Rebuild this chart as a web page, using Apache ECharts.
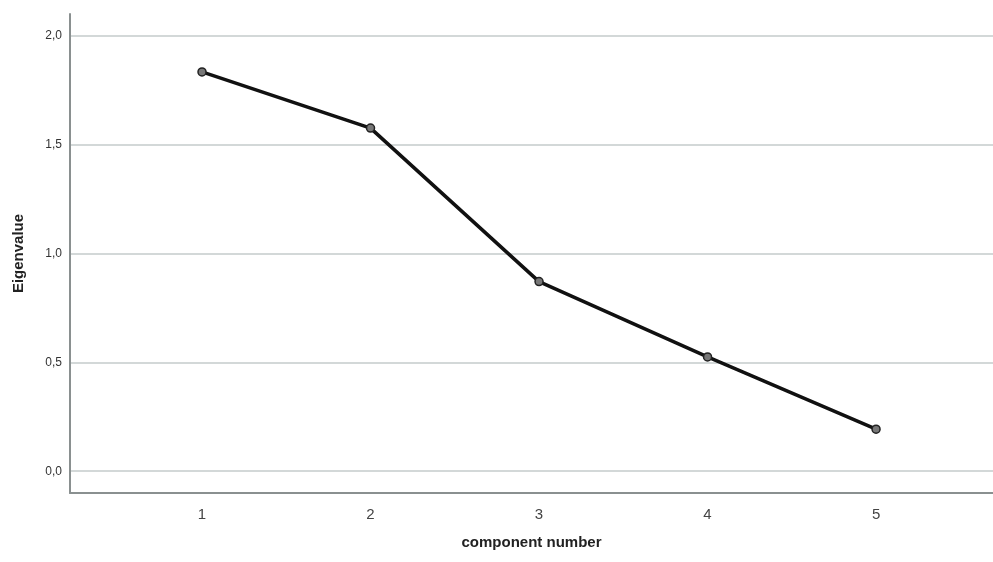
<!DOCTYPE html>
<html><head><meta charset="utf-8">
<script src="https://cdn.jsdelivr.net/npm/echarts@6/dist/echarts.min.js"></script>
<style>html,body{margin:0;padding:0;background:#fff}#c{width:993px;height:562px}</style>
</head><body><div id="c"></div>
<script>
const components = [1, 2, 3, 4, 5];
const eigenvalues = [1.834, 1.576, 0.871, 0.525, 0.193];
const yTicks = [0, 0.5, 1.0, 1.5, 2.0];
const xTicks = [1, 2, 3, 4, 5];

const chart = echarts.init(document.getElementById('c'));
chart.setOption({
  animation: false,
  grid: {left: 70, right: 0, top: 14, bottom: 69},
  xAxis: {
    type: 'value', min: 0.2166, max: 5.694,
    name: 'component number', nameLocation: 'middle', nameGap: 42,
    nameTextStyle: {fontFamily: 'Liberation Sans', fontWeight: 'bold', fontSize: 15, color: '#222'},
    axisLine: {show: true, onZero: false, lineStyle: {color: '#8a9090', width: 2}},
    axisTick: {show: false, customValues: xTicks},
    axisLabel: {customValues: xTicks, fontFamily: 'Liberation Sans', fontSize: 15, color: '#444', margin: 14},
    splitLine: {show: false}
  },
  yAxis: {
    type: 'value', min: -0.1, max: 2.1,
    name: 'Eigenvalue', nameLocation: 'middle', nameGap: 44, nameRotate: 90,
    nameTextStyle: {fontFamily: 'Liberation Sans', fontWeight: 'bold', fontSize: 15, color: '#222'},
    axisLine: {show: true, onZero: false, lineStyle: {color: '#8a9090', width: 2}},
    axisTick: {show: false, customValues: yTicks},
    axisLabel: {customValues: yTicks, fontFamily: 'Liberation Sans', fontSize: 12, color: '#333', margin: 8,
      formatter: v => v.toFixed(1).replace('.', ',')},
    splitLine: {show: true, lineStyle: {color: '#d3d8d8', width: 2}}
  },
  series: [{
    type: 'line',
    data: components.map((c, i) => [c, eigenvalues[i]]),
    lineStyle: {color: '#111', width: 3.5},
    symbol: 'circle', symbolSize: 8,
    itemStyle: {color: '#777', borderColor: '#222', borderWidth: 1.5}
  }]
});
</script></body></html>
